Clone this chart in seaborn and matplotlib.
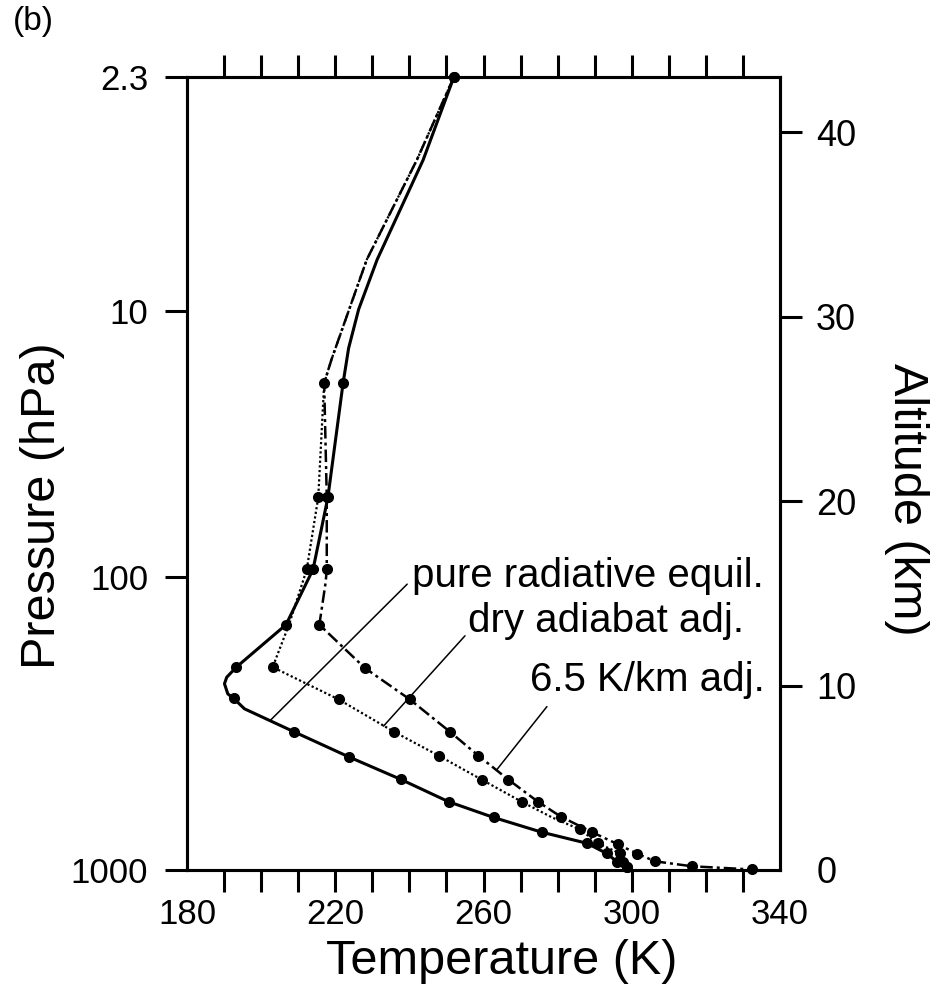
import numpy as np
import pandas as pd
import matplotlib
matplotlib.use("Agg")
import matplotlib.pyplot as plt
import seaborn as sns

# ---------------- data ----------------
# pure radiative equilibrium (solid)
rad_T = [252.0, 243.7, 231.3, 226.3, 223.6, 222.1, 218.0, 214.0, 206.7, 193.3, 190.7, 190.1,
         191.0, 192.6, 195.5, 208.8, 223.7, 237.6, 250.6, 262.7, 275.7, 287.9, 293.2,
         296.0, 298.6, 299.0]
rad_z = [43.0, 38.5, 33.1, 30.4, 28.3, 26.4, 20.2, 16.3, 13.3, 11.0, 10.45, 10.1,
         9.55, 9.3, 8.74, 7.5, 6.13, 4.92, 3.7, 2.85, 2.05, 1.45, 0.9,
         0.45, 0.15, 0.0]
rad_marks = [0, 5, 6, 7, 8, 9, 13, 15, 16, 17, 18, 19, 20, 21, 22, 23, 24]

# dry adiabat adjustment (dotted)
dry_T = [252.0, 242.0, 228.5, 219.0, 217.0, 215.4, 212.3, 207.5, 203.1, 220.9, 235.8,
         247.9, 259.5, 270.3, 278.5, 286.0, 290.9, 296.8, 297.5, 298.6, 299.0]
dry_z = [43.0, 38.5, 33.1, 27.7, 26.4, 20.2, 16.3, 13.3, 11.0, 9.25, 7.5,
         6.2, 4.9, 3.7, 2.85, 2.2, 1.45, 0.9, 0.45, 0.15, 0.0]
dry_marks = [5, 6, 8, 9, 10, 11, 12, 13, 15, 16, 17, 18, 19]

# 6.5 K/km adjustment (dash-dot)
lap_T = [252.0, 242.0, 228.5, 219.0, 217.0, 217.7, 217.7, 217.4, 215.7, 228.0, 240.1,
         250.9, 258.6, 266.7, 274.7, 280.8, 289.3, 296.2, 301.5, 306.3, 316.3, 332.4]
lap_z = [43.0, 38.5, 33.1, 27.7, 26.4, 20.2, 16.3, 15.6, 13.3, 10.95, 9.25,
         7.5, 6.2, 4.9, 3.7, 2.9, 2.05, 1.4, 0.88, 0.47, 0.2, 0.03]
lap_marks = [0, 4, 5, 6, 8, 9, 10, 11, 12, 13, 14, 15, 16, 17, 18, 19, 20, 21]

# axes
pressure_labels = ["1000", "100", "10", "2.3"]
pressure_alt = [0.0, 15.9, 30.3, 43.0]
alt_ticks = [0, 10, 20, 30, 40]
temp_labels = [180, 220, 260, 300, 340]

# labels with leader lines: text anchor (T, z) and leader line (T0, z0) -> (T1, z1)
labels = ["pure radiative equil.", "dry adiabat adj.", "6.5 K/km adj."]
label_T = [240.8, 255.8, 272.6]
label_z = [15.95, 13.5, 10.3]
lead_T0 = [239.4, 255.0, 277.1]
lead_z0 = [15.5, 12.7, 8.86]
lead_T1 = [202.4, 233.0, 263.5]
lead_z1 = [8.1, 7.8, 5.42]

# ---------------- figure ----------------
sns.set_theme(style="ticks")
plt.rcParams["font.family"] = ["Liberation Sans", "DejaVu Sans"]
plt.rcParams["text.color"] = "black"
plt.rcParams["axes.labelcolor"] = "black"
plt.rcParams["xtick.color"] = "black"
plt.rcParams["ytick.color"] = "black"

fig = plt.figure(figsize=(9.38, 9.91), dpi=100)
ax = fig.add_axes([0.1994, 0.1221, 0.6322, 0.8002])

series = [
    (rad_T, rad_z, rad_marks, "-", 2.2),
    (dry_T, dry_z, dry_marks, (0, (1.0, 1.1)), 1.6),
    (lap_T, lap_z, lap_marks, (0, (5.0, 1.6, 1.2, 1.6)), 1.8),
]
for T, z, marks, ls, lw in series:
    df = pd.DataFrame({"T": T, "z": z})
    sns.lineplot(data=df, x="T", y="z", sort=False, estimator=None, ax=ax,
                 color="black", linewidth=lw, linestyle=ls, marker="o",
                 markevery=marks, markersize=8, markeredgewidth=0,
                 markerfacecolor="black", clip_on=False)

for i, txt in enumerate(labels):
    ax.text(label_T[i], label_z[i], txt, fontsize=29, ha="left", va="center",
            color="black")
    ax.plot([lead_T0[i], lead_T1[i]], [lead_z0[i], lead_z1[i]], color="black",
            linewidth=1.1)

ax.set_xlim(180, 340)
ax.set_ylim(0, 43.0)

# x ticks (both top and bottom, outward)
xt = np.arange(180, 341, 10)
ax.set_xticks(xt)
ax.set_xticklabels([str(t) if t in temp_labels else "" for t in xt])
ax.tick_params(axis="x", which="major", direction="out", length=16, width=2.2,
               top=True, bottom=True, labeltop=False, labelsize=25, pad=4,
               colors="black")
xticks_objs = ax.xaxis.get_major_ticks()
for k in (0, len(xticks_objs) - 1):
    xticks_objs[k].tick1line.set_visible(False)
    xticks_objs[k].tick2line.set_visible(False)

# left pressure ticks
ax.set_yticks(pressure_alt)
ax.set_yticklabels(pressure_labels)
ax.tick_params(axis="y", which="major", direction="out", length=16, width=2.2,
               labelsize=25, pad=12, colors="black")
yticks_objs = ax.yaxis.get_major_ticks()
for k in (0, len(yticks_objs) - 1):
    yticks_objs[k].tick1line.set_visible(False)

for s in ax.spines.values():
    s.set_linewidth(2.2)
    s.set_color("black")

ax.set_xlabel("Temperature (K)", fontsize=35, va="center", color="black")
ax.xaxis.set_label_coords(0.531, -0.116)
ax.set_ylabel("Pressure (hPa)", fontsize=35, va="center", color="black")
ax.yaxis.set_label_coords(-0.243, 0.46)

# right altitude axis
ax2 = ax.twinx()
ax2.set_ylim(0, 43.0)
ax2.set_yticks(alt_ticks)
ax2.set_yticklabels([str(a) for a in alt_ticks])
ax2.tick_params(axis="y", direction="out", length=16, width=2.2, labelsize=26,
                pad=10, colors="black")
r_ticks = ax2.yaxis.get_major_ticks()
r_ticks[0].tick2line.set_visible(False)
for s in ax2.spines.values():
    s.set_linewidth(2.2)
    s.set_color("black")
ax2.set_ylabel("Altitude (km)", fontsize=35, rotation=270, va="center",
               color="black")
ax2.yaxis.set_label_coords(1.214, 0.467)

fig.text(0.014, 0.978, "(b)", fontsize=24, ha="left", va="center", color="black")

fig.savefig("out.png", dpi=100)
